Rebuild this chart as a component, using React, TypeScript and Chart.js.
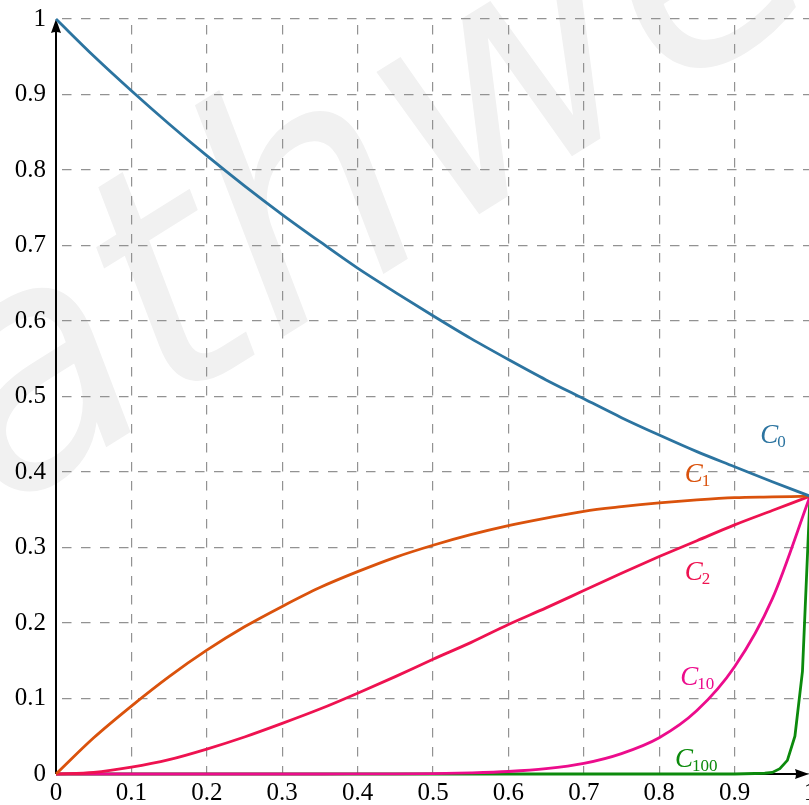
import React, { useEffect, useRef } from 'react';
import { Chart, registerables } from 'chart.js';

Chart.register(...registerables);

// ---- data ----
const xSamples = [0, 0.05, 0.1, 0.15, 0.2, 0.25, 0.3, 0.35, 0.4, 0.45, 0.5, 0.55, 0.6, 0.65, 0.7, 0.75, 0.8, 0.85, 0.9, 0.95, 1];
const c0Values = [1, 0.951, 0.905, 0.861, 0.819, 0.779, 0.741, 0.705, 0.67, 0.638, 0.607, 0.577, 0.549, 0.522, 0.497, 0.472, 0.449, 0.427, 0.407, 0.387, 0.368];
const c1Values = [0, 0.048, 0.09, 0.129, 0.164, 0.195, 0.222, 0.247, 0.268, 0.287, 0.303, 0.317, 0.329, 0.339, 0.348, 0.354, 0.359, 0.363, 0.366, 0.367, 0.368];
const c2Values = [0, 0.002, 0.009, 0.019, 0.033, 0.049, 0.067, 0.086, 0.107, 0.129, 0.152, 0.174, 0.198, 0.22, 0.243, 0.266, 0.288, 0.309, 0.33, 0.349, 0.368];
const c10Values = [0, 0, 0, 0, 0, 0, 0, 0, 0.0001, 0.0002, 0.0006, 0.0015, 0.0033, 0.007, 0.014, 0.027, 0.048, 0.084, 0.142, 0.232, 0.368];
const c100X = [0, 0.9, 0.94, 0.95, 0.96, 0.97, 0.98, 0.99, 1];
const c100Values = [0, 0, 0.001, 0.002, 0.007, 0.018, 0.05, 0.136, 0.368];

const axisTicks = [0, 0.1, 0.2, 0.3, 0.4, 0.5, 0.6, 0.7, 0.8, 0.9, 1];

const seriesSubscripts = ['0', '1', '2', '10', '100'];
const seriesColors = ['#2c74a0', '#da520c', '#ee1250', '#ec0c8c', '#0c8a0c'];
const labelAnchorX = [0.934, 0.834, 0.834, 0.828, 0.821];
const labelAnchorY = [0.438, 0.387, 0.257, 0.118, 0.009];

const watermarkText = 'mathweb.fr';

function pts(xs: number[], ys: number[]) {
  return xs.map((x, i) => ({ x, y: ys[i] }));
}

const fmt = (v: number) => String(Number(Number(v).toFixed(1)));

export default function App() {
  const ref = useRef<HTMLCanvasElement | null>(null);

  useEffect(() => {
    const canvas = ref.current;
    if (!canvas) return;

    const watermarkPlugin = {
      id: 'watermark',
      beforeDraw(chart: any) {
        const ctx = chart.ctx;
        ctx.save();
        ctx.translate(-263, 678);
        ctx.rotate((-32 * Math.PI) / 180);
        ctx.font = 'oblique 320px "DejaVu Sans"';
        ctx.fillStyle = '#f1f1f1';
        ctx.textBaseline = 'alphabetic';
        ctx.fillText(watermarkText, 0, 0);
        ctx.restore();
      },
    };

    const axesPlugin = {
      id: 'arrowAxes',
      beforeDatasetsDraw(chart: any) {
        const ctx = chart.ctx;
        const xs = chart.scales.x;
        const ys = chart.scales.y;
        const x0 = xs.getPixelForValue(0);
        const x1 = xs.getPixelForValue(1) - 1;
        const y0 = ys.getPixelForValue(0);
        const y1 = ys.getPixelForValue(1);
        ctx.save();
        ctx.strokeStyle = '#000';
        ctx.fillStyle = '#000';
        ctx.lineWidth = 2;
        ctx.beginPath();
        ctx.moveTo(x0, y0);
        ctx.lineTo(x1 - 6, y0);
        ctx.moveTo(x0, y0);
        ctx.lineTo(x0, y1 + 6);
        ctx.stroke();
        // y arrow head
        ctx.beginPath();
        ctx.moveTo(x0, y1);
        ctx.lineTo(x0 - 5, y1 + 14);
        ctx.quadraticCurveTo(x0, y1 + 12, x0 + 5, y1 + 14);
        ctx.closePath();
        ctx.fill();
        // x arrow head
        ctx.beginPath();
        ctx.moveTo(x1, y0);
        ctx.lineTo(x1 - 14, y0 - 5);
        ctx.quadraticCurveTo(x1 - 12, y0, x1 - 14, y0 + 5);
        ctx.closePath();
        ctx.fill();
        ctx.restore();
      },
    };

    const labelsPlugin = {
      id: 'curveLabels',
      afterDatasetsDraw(chart: any) {
        const ctx = chart.ctx;
        const xs = chart.scales.x;
        const ys = chart.scales.y;
        ctx.save();
        ctx.textBaseline = 'alphabetic';
        ctx.textAlign = 'left';
        seriesSubscripts.forEach((sub, i) => {
          const px = xs.getPixelForValue(labelAnchorX[i]);
          const py = ys.getPixelForValue(labelAnchorY[i]);
          ctx.fillStyle = seriesColors[i];
          ctx.font = 'italic 27px "Liberation Serif"';
          ctx.fillText('C', px, py);
          const w = ctx.measureText('C').width;
          ctx.font = '17px "Liberation Serif"';
          ctx.fillText(sub, px + w - 1, py + 4);
        });
        ctx.restore();
      },
    };

    const tickFont = { family: '"Liberation Serif", serif', size: 25 };

    const makeDs = (data: any[], color: string, smooth: boolean) => ({
      data,
      borderColor: color,
      backgroundColor: color,
      borderWidth: 2.8,
      pointRadius: 0,
      fill: false,
      tension: 0,
      cubicInterpolationMode: smooth ? 'monotone' : 'default',
      clip: false,
    });

    const chart = new Chart(canvas, {
      type: 'line',
      data: {
        datasets: [
          makeDs(pts(xSamples, c0Values), seriesColors[0], true),
          makeDs(pts(xSamples, c1Values), seriesColors[1], true),
          makeDs(pts(xSamples, c2Values), seriesColors[2], true),
          makeDs(pts(xSamples, c10Values), seriesColors[3], true),
          makeDs(pts(c100X, c100Values), seriesColors[4], false),
        ] as any,
      },
      options: {
        animation: false,
        responsive: false,
        devicePixelRatio: 1,
        events: [],
        layout: { padding: { top: 19, right: 20, left: 0, bottom: 0 } },
        plugins: { legend: { display: false }, tooltip: { enabled: false } },
        scales: {
          x: {
            type: 'linear',
            min: 0,
            max: 1,
            afterFit(scale: any) {
              scale.height = 31;
              scale.paddingLeft = 0;
              scale.paddingRight = 0;
            },
            afterBuildTicks(scale: any) {
              scale.ticks = axisTicks.map((v) => ({ value: v }));
            },
            ticks: {
              font: tickFont,
              color: '#000',
              padding: 4,
              maxRotation: 0,
              autoSkip: false,
              callback: (v: any) => fmt(v),
            },
            grid: {
              color: '#929292',
              lineWidth: 1.2,
              drawTicks: false,
              tickLength: 0,
            },
            border: { display: false, dash: [9.5, 9.5], dashOffset: 13 },
          } as any,
          y: {
            type: 'linear',
            min: 0,
            max: 1,
            afterFit(scale: any) {
              scale.width = 56;
              scale.paddingTop = 0;
              scale.paddingBottom = 0;
            },
            afterBuildTicks(scale: any) {
              scale.ticks = axisTicks.map((v) => ({ value: v }));
            },
            ticks: {
              font: tickFont,
              color: '#000',
              padding: 10,
              autoSkip: false,
              callback: (v: any) => fmt(v),
            },
            grid: {
              color: '#929292',
              lineWidth: 1.2,
              drawTicks: false,
              tickLength: 0,
            },
            border: { display: false, dash: [9.5, 9.5], dashOffset: 13 },
          } as any,
        },
      },
      plugins: [watermarkPlugin, axesPlugin, labelsPlugin],
    } as any);

    return () => chart.destroy();
  }, []);

  return (
    <div style={{ position: 'fixed', left: 0, top: 0, width: 809, height: 805, overflow: 'hidden', background: '#fff' }}>
      <canvas ref={ref} width={830} height={805} style={{ display: 'block', width: 830, height: 805 }} />
    </div>
  );
}
